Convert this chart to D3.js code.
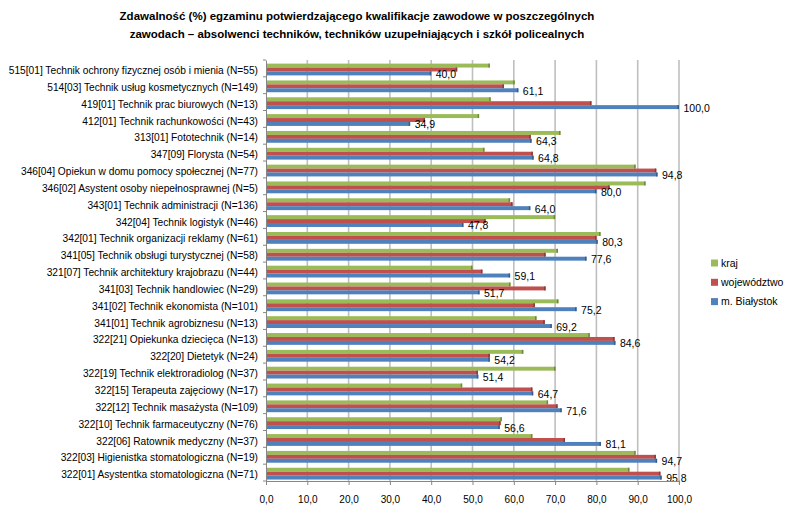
<!DOCTYPE html>
<html>
<head>
<meta charset="utf-8">
<script src="https://cdn.jsdelivr.net/npm/d3@7"></script>
<style>
  html, body { margin: 0; padding: 0; background: #fff; }
  svg { display: block; font-family: "Liberation Sans", Arial, sans-serif; }
</style>
</head>
<body>
<svg id="chart" width="791" height="515"></svg>
<script>
const titleLines = [
  "Zdawalność (%) egzaminu potwierdzającego kwalifikacje zawodowe w poszczególnych",
  "zawodach – absolwenci techników, techników uzupełniających i szkół policealnych"
];
const categories = [
  "515[01] Technik ochrony fizycznej osób i mienia (N=55)",
  "514[03] Technik usług kosmetycznych (N=149)",
  "419[01] Technik prac biurowych (N=13)",
  "412[01] Technik rachunkowości (N=43)",
  "313[01] Fototechnik (N=14)",
  "347[09] Florysta (N=54)",
  "346[04] Opiekun w domu pomocy społecznej (N=77)",
  "346[02] Asystent osoby niepełnosprawnej (N=5)",
  "343[01] Technik administracji (N=136)",
  "342[04] Technik logistyk (N=46)",
  "342[01] Technik organizacji reklamy (N=61)",
  "341[05] Technik obsługi turystycznej (N=58)",
  "321[07] Technik architektury krajobrazu (N=44)",
  "341[03] Technik handlowiec (N=29)",
  "341[02] Technik ekonomista (N=101)",
  "341[01] Technik agrobiznesu (N=13)",
  "322[21] Opiekunka dziecięca (N=13)",
  "322[20] Dietetyk (N=24)",
  "322[19] Technik elektroradiolog (N=37)",
  "322[15] Terapeuta zajęciowy (N=17)",
  "322[12] Technik masażysta (N=109)",
  "322[10] Technik farmaceutyczny (N=76)",
  "322[06] Ratownik medyczny (N=37)",
  "322[03] Higienistka stomatologiczna (N=19)",
  "322[01] Asystentka stomatologiczna (N=71)"
];
const seriesNames = ["kraj", "województwo", "m. Białystok"];
const kraj = [54.2, 60.2, 54.4, 51.6, 71.3, 52.9, 89.5, 91.9, 59.1, 70.0, 81.0, 70.7, 50.0, 59.2, 70.8, 65.5, 78.4, 62.3, 70.1, 47.5, 68.3, 57.1, 64.5, 89.5, 88.0];
const wojewodztwo = [46.3, 57.6, 78.8, 38.5, 64.1, 64.6, 94.5, 83.2, 59.7, 53.2, 80.0, 67.7, 52.4, 67.7, 65.1, 67.5, 84.4, 54.2, 51.3, 64.5, 70.6, 56.8, 72.4, 94.4, 95.5];
const bialystok = [40.0, 61.1, 100.0, 34.9, 64.3, 64.8, 94.8, 80.0, 64.0, 47.8, 80.3, 77.6, 59.1, 51.7, 75.2, 69.2, 84.6, 54.2, 51.4, 64.7, 71.6, 56.6, 81.1, 94.7, 95.8];
const xTicks = [0, 10, 20, 30, 40, 50, 60, 70, 80, 90, 100];
const colors = ["#9BBB59", "#C0504D", "#4F81BD"];
const darker = ["#71893F", "#8C3836", "#385D8A"];

const svg = d3.select("#chart");
const fmt = v => d3.format(".1f")(v).replace(".", ",");

const mLeft = 266, mRight = 679, mTop = 60, mBottom = 481;
const x = d3.scaleLinear().domain([0, 100]).range([mLeft, mRight]);
const y = d3.scaleBand().domain(categories).range([mTop, mBottom]).paddingInner(0).paddingOuter(0);
const sub = d3.scaleBand().domain(seriesNames).range([3.6, 15.4]);

// title
const title = svg.append("g");
titleLines.forEach((t, i) => {
  title.append("text").attr("x", 357).attr("y", 20 + i * 17.5)
    .attr("text-anchor", "middle").attr("font-weight", "bold")
    .attr("font-size", 11.5).attr("fill", "#000").text(t);
});

// gridlines
svg.append("g").selectAll("line").data(xTicks.slice(1)).join("line")
  .attr("x1", d => x(d)).attr("x2", d => x(d))
  .attr("y1", mTop).attr("y2", mBottom)
  .attr("stroke", "#BFBFBF").attr("stroke-width", 1.6);

// bars
const series = [kraj, wojewodztwo, bialystok];
series.forEach((vals, si) => {
  const g = svg.append("g");
  g.selectAll("rect.bar").data(categories).join("rect").attr("class", "bar")
    .attr("x", x(0))
    .attr("y", (c) => y(c) + sub(seriesNames[si]))
    .attr("width", (c, i) => x(vals[i]) - x(0))
    .attr("height", sub.bandwidth())
    .attr("fill", colors[si]);
  g.selectAll("rect.cap").data(categories).join("rect").attr("class", "cap")
    .attr("x", (c, i) => x(vals[i]) - 1.5)
    .attr("y", (c) => y(c) + sub(seriesNames[si]))
    .attr("width", 1.5)
    .attr("height", sub.bandwidth())
    .attr("fill", darker[si]);
});

// data labels (m. Białystok)
svg.append("g").selectAll("text").data(categories).join("text")
  .attr("x", (c, i) => x(bialystok[i]) + 4.5)
  .attr("y", c => y(c) + sub("m. Białystok") + sub.bandwidth() / 2 + 4.5)
  .attr("font-size", 10.5).attr("fill", "#000")
  .text((c, i) => fmt(bialystok[i]));

// y axis
const yAxisG = svg.append("g").attr("transform", `translate(${mLeft},0)`)
  .call(d3.axisLeft(y).tickSize(0).tickPadding(8));
yAxisG.select(".domain").attr("stroke", "#868686");
yAxisG.selectAll(".tick text").attr("font-size", 10.2).attr("fill", "#000")
  .attr("font-family", "Liberation Sans, Arial, sans-serif")
  .attr("dy", "0.55em");
// boundary tick marks
svg.append("g").selectAll("line").data(d3.range(categories.length + 1)).join("line")
  .attr("x1", mLeft - 3).attr("x2", mLeft)
  .attr("y1", i => mTop + i * y.step()).attr("y2", i => mTop + i * y.step())
  .attr("stroke", "#868686");

// x axis
const xAxisG = svg.append("g").attr("transform", `translate(0,${mBottom})`)
  .call(d3.axisBottom(x).tickValues(xTicks).tickFormat(fmt).tickSize(4).tickPadding(11));
xAxisG.select(".domain").attr("stroke", "#868686");
xAxisG.selectAll(".tick line").attr("stroke", "#868686");
xAxisG.selectAll(".tick text").attr("font-size", 10).attr("fill", "#000")
  .attr("font-family", "Liberation Sans, Arial, sans-serif");

// legend
const lg = svg.append("g");
seriesNames.forEach((n, i) => {
  const yy = 263 + i * 19.3;
  lg.append("rect").attr("x", 711).attr("y", yy - 3.5).attr("width", 7).attr("height", 7).attr("fill", colors[i]);
  lg.append("text").attr("x", 721).attr("y", yy + 3.7).attr("font-size", 10.5).attr("fill", "#000").text(n);
});
</script>
</body>
</html>
